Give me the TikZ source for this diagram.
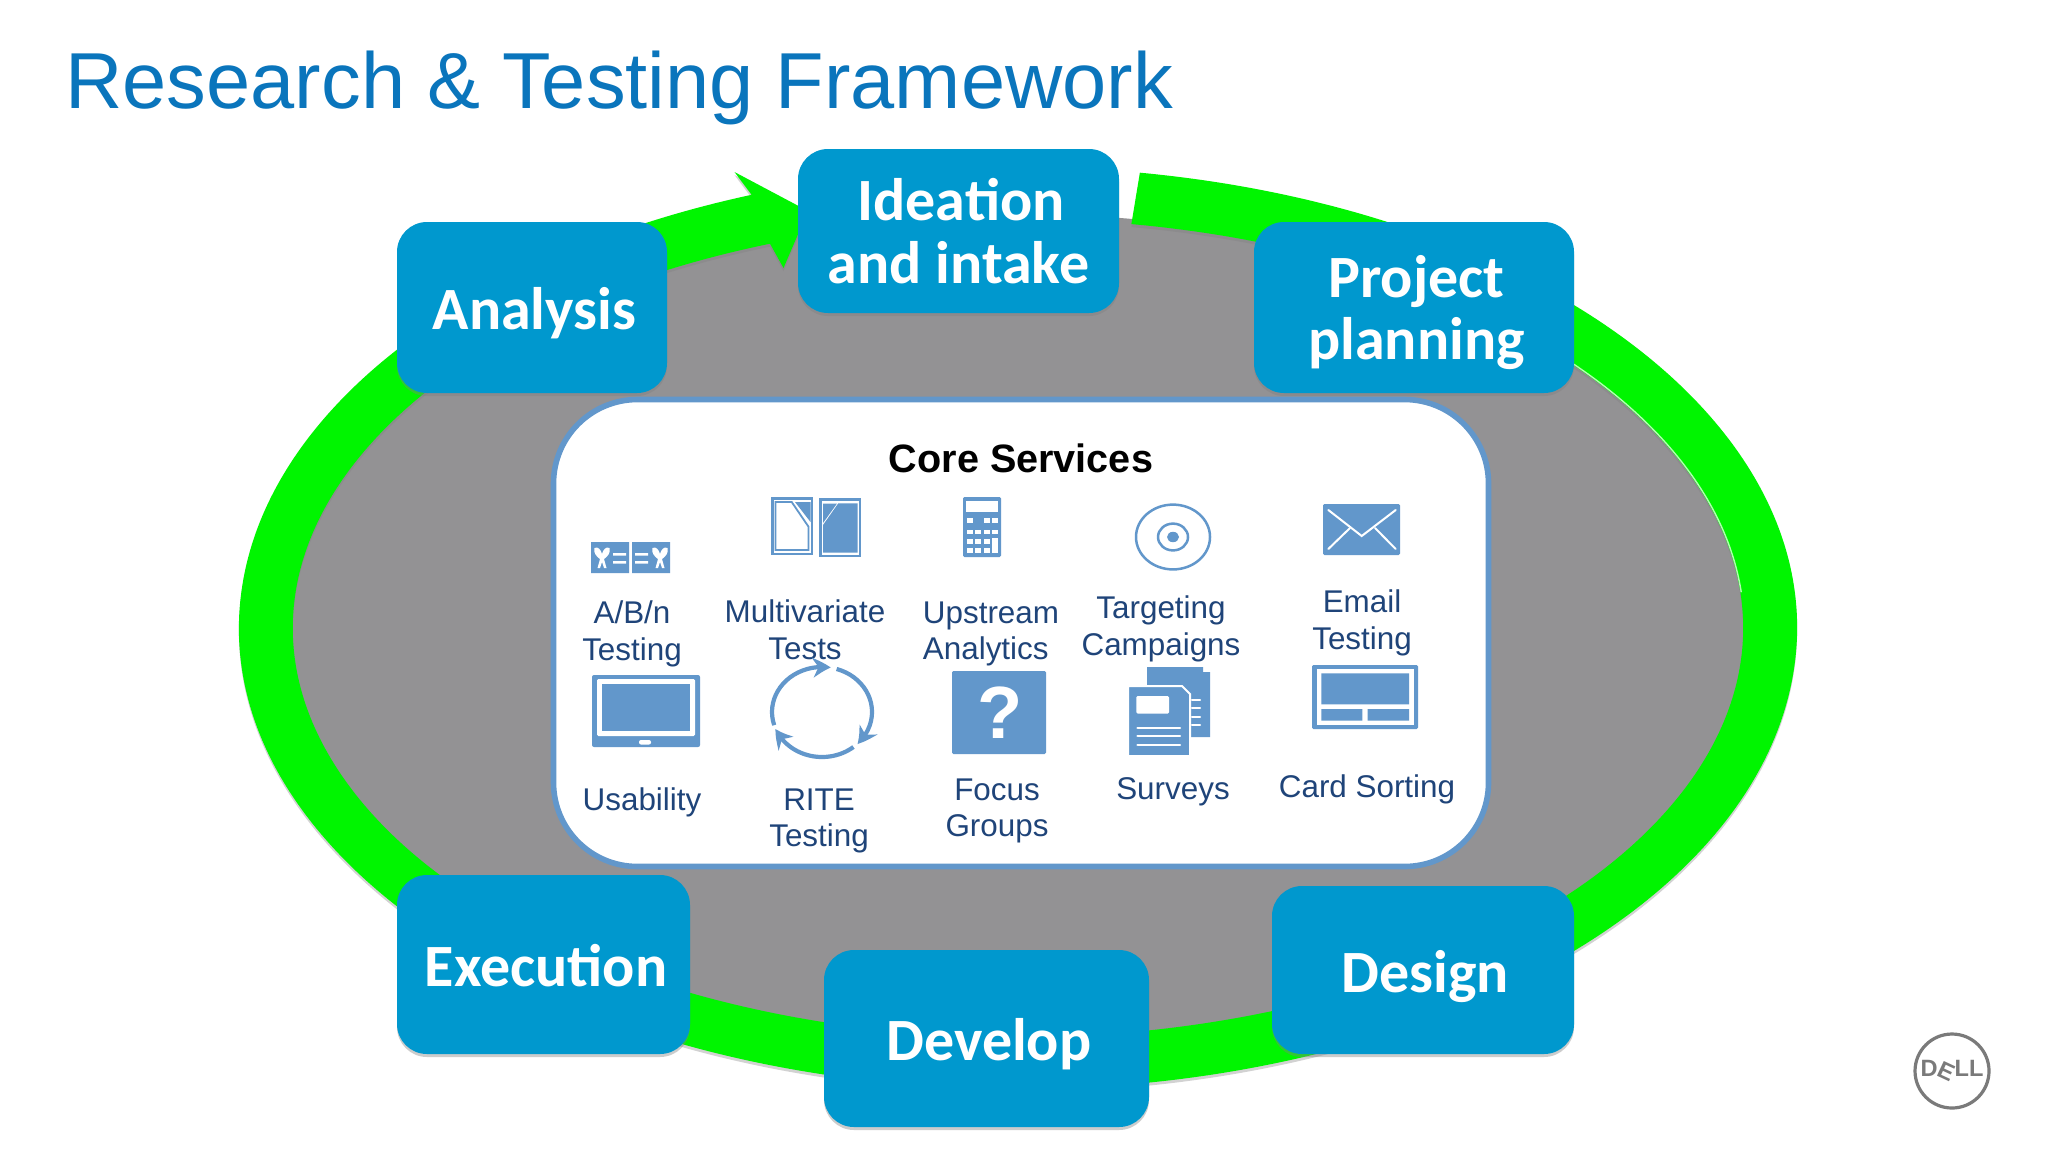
\documentclass[tikz,border=0pt]{standalone}
\usepackage{fontspec}
\setmainfont{Liberation Sans}
\newfontfamily\carl{Carlito}
\usetikzlibrary{arrows.meta,shadows,bending}
\definecolor{boxblue}{HTML}{0098CE}
\definecolor{titleblue}{HTML}{0A75BC}
\definecolor{bandgreen}{HTML}{00F500}
\definecolor{corefill}{HTML}{939294}
\definecolor{iconblue}{HTML}{6297CB}
\definecolor{labelblue}{HTML}{1F4479}
\definecolor{delgray}{HTML}{7A7A7A}
\tikzset{
  px/.style={x=0.5pt,y=-0.5pt},
  stage/.style={fill=boxblue,rounded corners=15pt,text=white,inner sep=0pt,align=center,
    font=\carl\bfseries\fontsize{30}{31.4}\selectfont,
    drop shadow={shadow xshift=0pt,shadow yshift=-1.5pt,opacity=.4}},
  oneline/.style={text height=30pt,text depth=8pt},
  svc/.style={text=labelblue,inner sep=0pt,align=center,font=\fontsize{15.7}{18.3}\selectfont},
  ic/.style={fill=iconblue},
  wh/.style={fill=white},
  whline/.style={draw=white,line width=1pt},
}
\newcommand{\nudge}{\hspace*{2.5pt}}
\begin{document}
\begin{tikzpicture}[px]
\useasboundingbox (0,0) rectangle (2048,1152);
\fill[white] (0,0) rectangle (2048,1152);
\node[anchor=base west,inner sep=0pt,text=titleblue,font=\fontsize{39.7}{48}\selectfont] (title) at (65,108) {Research \& Testing Framework};

% ellipse and looping arrow
\fill[corefill] (1018,628) ellipse [x radius=367pt,y radius=207pt];
\fill[bandgreen,drop shadow={shadow xshift=0pt,shadow yshift=-1.5pt,opacity=.35}]
  (1018,628) ++(81:389.5pt and 230.5pt)
  arc[start angle=81,end angle=-250,x radius=389.5pt,y radius=230.5pt]
  -- (734.5,172) -- (808,211) -- (783.5,268)
  -- (770,243.7)
  arc[start angle=-250,end angle=81,x radius=362.5pt,y radius=204.5pt] -- cycle;
\draw[white,opacity=.7,line width=.7pt] (1018,628) ++(48:363pt and 205pt)
  arc[start angle=48,end angle=5,x radius=363pt,y radius=205pt];

% stages
\node[stage,oneline,minimum width=135pt,minimum height=85.5pt] (analysis) at (532,307.5) {\nudge Analysis};
\node[stage,minimum width=160.5pt,minimum height=82pt] (ideation) at (958.5,231) {\nudge Ideation\\and intake};
\node[stage,minimum width=160pt,minimum height=85.5pt] (planning) at (1414,307.5) {\nudge Project\\\nudge\raisebox{0pt}[\height][0pt]{planning}};
\node[stage,oneline,minimum width=146.5pt,minimum height=89.5pt] (execution) at (543.5,964.5) {\nudge Execution};
\node[stage,oneline,minimum width=162.5pt,minimum height=88.5pt] (develop) at (986.5,1038.5) {\nudge Develop};
\node[stage,oneline,minimum width=151pt,minimum height=84pt] (design) at (1423,970) {\nudge Design};

% core panel
\node[draw=iconblue,line width=2.8pt,fill=white,rounded corners=42pt,minimum width=467.5pt,minimum height=233.5pt,inner sep=0pt] (core) at (1021,633) {};
\node[inner sep=0pt,font=\bfseries\fontsize{19.8}{24}\selectfont,text=black] (coretitle) at (1021,458) {Core Services};

% labels
\node[svc] (l1) at (632,634) {A/B/n\\Testing};
\node[svc] (l2) at (805,630) {Multivariate\\Tests};
\node[svc,align=left] (l3) at (991,634) {Upstream\\Analytics};
\node[svc] (l4) at (1161,629) {Targeting\\Campaigns};
\node[svc] (l5) at (1362,623) {Email\\Testing};
\node[svc] (l6) at (642,802) {Usability};
\node[svc] (l7) at (819,821) {RITE\\Testing};
\node[svc] (l8) at (997,811) {Focus\\Groups};
\node[svc] (l9) at (1173,792) {Surveys};
\node[svc] (l10) at (1367,789) {Card Sorting};

% A/B icon
\fill[ic] (591,542) rectangle (629,573) (632,542) rectangle (670,573);
\foreach \ox in {0,58}{
\fill[white,xshift=\ox*0.5pt] (594.5,548) .. controls (598,546) and (601,550) .. (602,554) .. controls (603,550) and (606,546) .. (609.5,548) .. controls (611,553) and (607,557) .. (604,559) -- (606.5,568) -- (604,568) -- (602,562) -- (600,568) -- (597.5,568) -- (600,559) .. controls (597,557) and (593,553) .. (594.5,548) -- cycle;
}
\fill[white] (613,553) rectangle (626,555.5) (613,561) rectangle (626,563.5) (635,553) rectangle (648,555.5) (635,561) rectangle (648,563.5);

% Multivariate icon
\fill[ic] (771,497) rectangle (813,555);
\fill[wh] (773.5,499.5) rectangle (810.5,552.5);
\draw[iconblue,line width=.9pt] (775.5,502) -- (791.7,502) -- (808.5,526.7) -- (808.5,550) -- (775.5,550) -- cycle;
\fill[ic] (795,502) -- (810.5,502) -- (810.5,522) -- cycle;
\fill[ic] (819,498) rectangle (861,557);
\fill[wh] (821.5,500.5) rectangle (858.5,554.5);
\fill[ic] (838.3,503.3) -- (857.7,503.3) -- (857.7,552.7) -- (823,552.7) -- (823,525) -- cycle;
\fill[ic] (823,503.5) -- (837,503.5) -- (823,523) -- cycle;

% calculator icon
\fill[ic,rounded corners=.7pt] (963,497) rectangle (1001,557);
\fill[wh] (966,500.7) rectangle (998.3,511.7);
\foreach \bx/\by in {969.5/520.7,986.5/520.7,995/520.7,
  969.5/532,978/532,986.5/532,995/532,
  969.5/541.3,978/541.3,986.5/541.3,
  969.5/550.3,978/550.3,986.5/550.3}
  \fill[wh] (\bx-3,\by-2.3) rectangle (\bx+3,\by+2.3);
\fill[wh] (992,538) rectangle (998,553);

% target icon
\draw[iconblue,line width=1.25pt] (1173,537) ellipse [x radius=18.5pt,y radius=16.2pt];
\draw[iconblue,line width=1.25pt] (1173,537) ellipse [x radius=7.5pt,y radius=6.7pt];
\fill[ic] (1173,537) ellipse [x radius=3pt,y radius=2.6pt];

% envelope icon
\fill[ic,rounded corners=.7pt] (1323,504) rectangle (1400,555);
\draw[whline,line cap=round,line join=miter] (1328.3,510) -- (1361.7,536) -- (1395.7,510);
\draw[whline,line cap=round] (1328.3,549) -- (1350,528);
\draw[whline,line cap=round] (1395.7,549) -- (1375,528);

% tablet icon
\fill[ic,rounded corners=1pt] (592,675) rectangle (700,747);
\fill[wh,rounded corners=.7pt] (597,679) rectangle (695,736);
\fill[ic] (602,684) rectangle (690,731);
\fill[wh,rounded corners=1pt] (639,740) rectangle (651,744.5);

% RITE icon
\tikzset{rite/.style={draw=iconblue,line width=2.1pt,-{Stealth[length=9pt,width=10pt,bend]}}}
\draw[rite] (822,712) ++(197:25pt and 22.5pt) arc[start angle=197,end angle=80,x radius=25pt,y radius=22.5pt];
\draw[rite] (822,712) ++(73:25pt and 22.5pt) arc[start angle=73,end angle=-45,x radius=25pt,y radius=22.5pt];
\draw[rite] (822,712) ++(-51:25pt and 22.5pt) arc[start angle=-51,end angle=-158,x radius=25pt,y radius=22.5pt];

% focus icon
\fill[ic,rounded corners=.7pt] (952,671) rectangle (1046,754);
\node[inner sep=0pt,text=white,font=\bfseries\fontsize{37}{40}\selectfont] (q) at (1000,713) {?};

% surveys icon
\fill[ic] (1147,667) -- (1203,667) -- (1203,672) -- (1210,672) -- (1210,737) -- (1147,737) -- cycle;
\foreach \sy in {700,708.3,716.7,725}
  \draw[whline,line width=1.1pt,line cap=round] (1192,\sy) -- (1200,\sy);
\fill[ic,draw=white,line width=1pt] (1128,686) -- (1182,686) -- (1190,694) -- (1190,756) -- (1128,756) -- cycle;
\fill[wh,rounded corners=.7pt] (1136.3,696) rectangle (1169,713.7);
\foreach \sy in {728.3,736,745}
  \draw[whline,line width=1.1pt,line cap=round] (1137.5,\sy) -- (1180,\sy);

% card icon
\fill[ic,rounded corners=.7pt] (1312,665) rectangle (1418,729);
\fill[wh] (1316.7,669.3) rectangle (1414,725);
\fill[ic] (1321.3,673.3) rectangle (1409,704.3) (1321.3,709) rectangle (1362.3,720.7) (1367.7,709) rectangle (1409,720.7);

% Dell logo
\node[circle,draw=delgray,line width=1.6pt,minimum size=37pt,inner sep=0pt,text=delgray,
  font=\bfseries\fontsize{11.8}{12}\selectfont] (dell) at (1952,1071)
  {D\kern-1pt\raisebox{.4pt}{\rotatebox{-25}{E}}\kern-1pt LL};
\end{tikzpicture}
\end{document}
